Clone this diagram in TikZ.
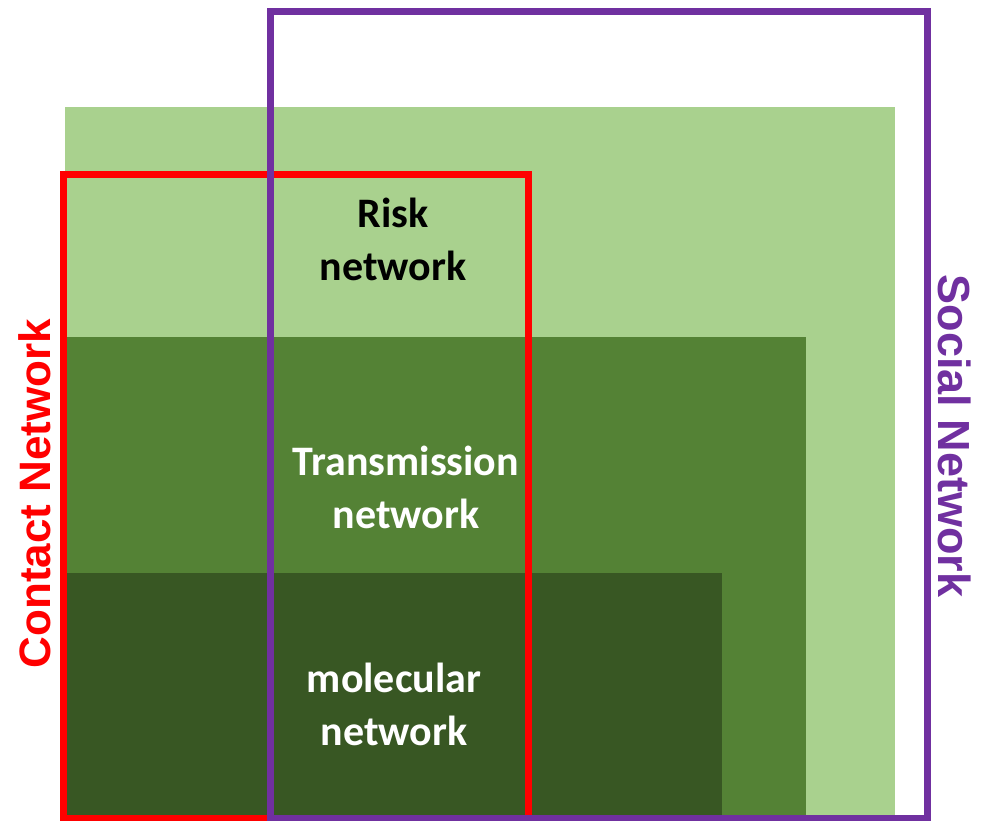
\documentclass[tikz,border=0pt]{standalone}
\usepackage{fontspec}
\setmainfont{Carlito}
\newfontfamily\arialbold{Liberation Sans}[BoldFont={Liberation Sans Bold}]
\definecolor{lgreen}{HTML}{A9D18E}
\definecolor{mgreen}{HTML}{548235}
\definecolor{dgreen}{HTML}{385723}
\definecolor{socpurple}{HTML}{7030A0}
\definecolor{conred}{HTML}{FF0000}
\begin{document}
\begin{tikzpicture}[x=1pt,y=-1pt,
  inner/.style={font=\fontsize{42}{53}\selectfont\bfseries, align=center, inner sep=0pt, anchor=base},
  side/.style={font=\fontsize{44}{50}\selectfont\arialbold\bfseries, inner sep=0pt, anchor=base},
  netframe/.style={line width=7pt}]
\useasboundingbox (0,0) rectangle (985,820);
\fill[lgreen] (65,107) rectangle (895,825);
\fill[mgreen] (65,337) rectangle (806,825);
\fill[dgreen] (65,572.5) rectangle (722,825);
\draw[netframe, conred] (63,174.5) rectangle (528,818);
\draw[netframe, socpurple] (270.5,11) rectangle (927,818);
\node[inner, text=black] (risk) at (393,280) {Risk\\network};
\node[inner, text=white] (trans) at (406,528) {Transmission\\network};
\node[inner, text=white] (mol) at (394,745) {molecular\\network};
\node[side, text=conred, rotate=90] (contact) at (50,493.5) {Contact Network};
\node[side, text=socpurple, rotate=-90, font=\fontsize{45}{50}\selectfont\arialbold\bfseries] (social) at (938,436) {Social Network};
\end{tikzpicture}
\end{document}
